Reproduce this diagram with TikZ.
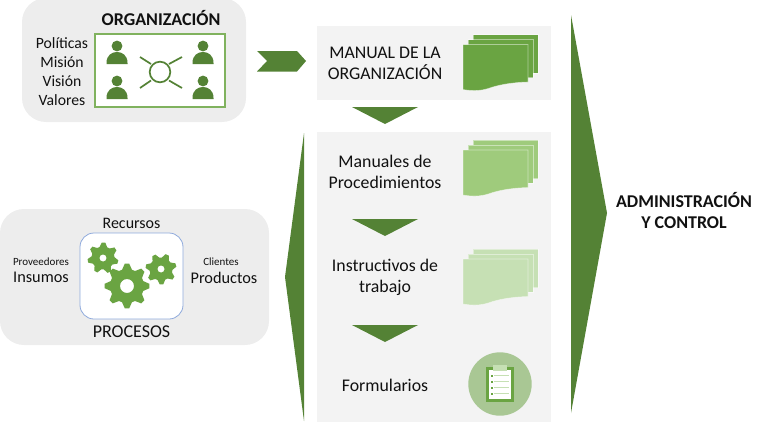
\documentclass[tikz,border=0pt]{standalone}
\usepackage{fontspec}
\setmainfont{Carlito}
\definecolor{darkg}{HTML}{548235}
\definecolor{midg}{HTML}{6AA442}
\definecolor{lightg}{HTML}{9FCB7C}
\definecolor{paleg}{HTML}{C6E0B4}
\definecolor{circg}{HTML}{A9C794}
\definecolor{panelgray}{HTML}{EDEDED}
\definecolor{boxgray}{HTML}{F3F3F3}
\definecolor{blueedge}{HTML}{8FAADC}
\definecolor{txt}{HTML}{111111}
\newcommand{\fs}[1]{\fontsize{#1}{#1}\selectfont}
\newcommand{\person}[2]{%
  \fill[darkg] (#1,#2-6) circle (5.4);
  \fill[darkg] (#1-10.5,#2+12) -- (#1-10.5,#2+11) .. controls (#1-10.5,#2+3) and (#1-5,#2) .. (#1,#2) .. controls (#1+5,#2) and (#1+10.5,#2+3) .. (#1+10.5,#2+11) -- (#1+10.5,#2+12) -- cycle;}
\newcommand{\gearb}[6]{% x y R r hole phase : 8 teeth
  \fill[midg,even odd rule]
    plot[samples at={0,...,31},variable=\k] ({#1+(mod(\k,4)<2?#3:#4)*cos(11.25*\k-5.6+#6)},{#2+(mod(\k,4)<2?#3:#4)*sin(11.25*\k-5.6+#6)}) -- cycle
    (#1,#2) circle (#5);}
\newcommand{\gearc}[6]{% x y R r hole phase : 7 teeth
  \fill[midg,even odd rule]
    plot[samples at={0,...,27},variable=\k] ({#1+(mod(\k,4)<2?#3:#4)*cos(12.857*\k-6.4+#6)},{#2+(mod(\k,4)<2?#3:#4)*sin(12.857*\k-6.4+#6)}) -- cycle
    (#1,#2) circle (#5);}
\newcommand{\docstack}[2]{% y offset, colour
  \begin{scope}[yshift=-#1pt]
  \fill[#2,draw=white,draw opacity=.45,line width=.6pt] (473,34.5) rectangle (538,73);
  \fill[#2,draw=white,draw opacity=.45,line width=.6pt] (468,39.5) rectangle (533,77.5);
  \fill[#2,draw=white,draw opacity=.45,line width=.6pt] (463,44.5) -- (528,44.5) -- (528,82) .. controls (510,82.5) and (498,85) .. (488,88.5) .. controls (480,91) and (472,91) .. (463,89.5) -- cycle;
  \end{scope}}
\tikzset{
  x=1pt,y=-1pt,
  label text/.style={text=txt,inner sep=0pt,align=center},
  down tri/.style={fill=darkg,draw=none},
}
\begin{document}
\begin{tikzpicture}
\useasboundingbox (0,0) rectangle (768,423);
% panels
\fill[panelgray,rounded corners=24pt] (22,-2) rectangle (246,122);
\fill[panelgray,rounded corners=24pt] (0,209) rectangle (269,345);
\fill[boxgray] (317,26) rectangle (551,100);
\fill[boxgray] (317,132) rectangle (551,422);
% organisation
\node[label text,font=\fs{18}\bfseries] (org) at (161,18) {ORGANIZACIÓN};
\node[label text,font=\fs{15.7}] (pol) at (62,43) {Políticas};
\node[label text,font=\fs{15.7}] (mis) at (62,62) {Misión};
\node[label text,font=\fs{15.7}] (vis) at (62,81) {Visión};
\node[label text,font=\fs{15.7}] (val) at (62,100) {Valores};
\draw[fill=white,draw=midg!85!white,line width=1.1pt] (95,34) rectangle (225,107);
\person{117}{52}\person{203}{52}\person{117}{87}\person{203}{87}
\draw[darkg,line width=1.7pt] (160,72) circle (10.3);
\draw[darkg,line width=1.7pt] (140,57) -- (151,64) (182,57) -- (169,64) (140,88) -- (151,80.5) (182,88) -- (169,80.5);
% chevron
\fill[darkg] (257,51) -- (297,51) -- (306,61) -- (297,71.5) -- (257,71.5) -- (267,61) -- cycle;
% big arrows
\fill[darkg] (571,15) -- (607,213) -- (571,413) -- cycle;
\fill[darkg] (304,133) -- (285,277) -- (304,421) -- cycle;
% triangles
\fill[down tri] (352,107) -- (418,107) -- (385,124) -- cycle;
\fill[down tri] (352,219) -- (418,219) -- (385,236) -- cycle;
\fill[down tri] (352,325) -- (418,325) -- (385,342) -- cycle;
% centre column
\node[label text,font=\fs{17.8}] (man) at (385,63.5) {MANUAL DE LA\\[3.5pt]ORGANIZACIÓN};
\node[label text,font=\fs{17.8}] (proc) at (385,172) {Manuales de\\[3.5pt]Procedimientos};
\node[label text,font=\fs{17.8}] (inst) at (385,277.5) {Instructivos de\\[3.5pt]trabajo};
\node[label text,font=\fs{17.8}] (form) at (385,385) {Formularios};
\docstack{0}{midg}
\docstack{105.5}{lightg}
\docstack{214.5}{paleg}
% clipboard
\fill[circg] (500,384) circle (31.7);
\fill[midg] (486,367) rectangle (514,402);
\fill[white] (489,370) rectangle (511,399);
\fill[paleg] (493,365) rectangle (507,371);
\foreach \yy in {375.5,381.5,387.5,393.5}{
  \fill[midg] (490.5,\yy-1) rectangle (492.5,\yy+1);
  \draw[paleg,line width=.8pt] (494,\yy) -- (509,\yy);
}
% processes
\draw[fill=white,draw=blueedge,line width=.8pt,rounded corners=14pt] (80,233) rectangle (183,319);
\gearc{103}{258}{15.5}{11.5}{3.6}{15}
\gearb{127}{286}{22.5}{17}{7}{0}
\gearc{161}{269}{15.5}{11.5}{3.6}{-15}
\node[label text,font=\fs{16}] (rec) at (131.5,223.5) {Recursos};
\node[label text,font=\fs{11}] (prov) at (41,262) {Proveedores};
\node[label text,font=\fs{16.3}] (ins) at (41,277.5) {Insumos};
\node[label text,font=\fs{11}] (cli) at (221,262) {Clientes};
\node[label text,font=\fs{16.3}] (prod) at (224,277.5) {Productos};
\node[label text,font=\fs{18}] (pr) at (131.5,331.5) {PROCESOS};
% admin
\node[label text,font=\fs{18}\bfseries] (adm) at (684,210.5) {ADMINISTRACIÓN\\[3.5pt]Y CONTROL};
\end{tikzpicture}
\end{document}
